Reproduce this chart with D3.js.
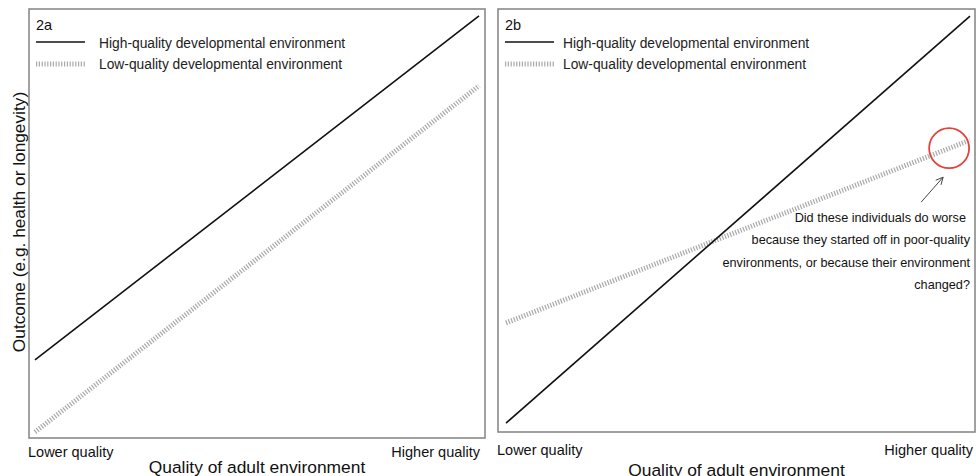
<!DOCTYPE html>
<html><head><meta charset="utf-8">
<script src="https://cdn.jsdelivr.net/npm/d3@7"></script>
<style>body{margin:0;background:#fff}svg{display:block;font-family:"Liberation Sans",Arial,sans-serif}</style>
</head><body>
<svg id="c" width="976" height="476"></svg>
<script>
// Data (x: quality of adult environment 0-100, y: outcome 0-100)
const xEnds = [0, 100];
const panelA_high = [18.2, 98.4];
const panelA_low = [1.4, 82.1];
const panelB_high = [2.1, 98.3];
const panelB_low = [25.8, 69.0];
const highlightPoint = [95.5, 67.1];
const panels = ["2a", "2b"];
const legendLabels = ["High-quality developmental environment", "Low-quality developmental environment"];
const xTickLabels = ["Lower quality", "Higher quality"];
const xTitle = "Quality of adult environment";
const yTitle = "Outcome (e.g. health or longevity)";
const annotation = ["Did these individuals do worse", "because they started off in poor-quality", "environments, or because their environment", "changed?"];

const svg = d3.select("#c");

const layouts = [
  {box:[29,9,485,438], xr:[35,479], high:panelA_high, low:panelA_low, name:panels[0],
   lx:36, tx:99, tickY:457, tickR:480, titleY:473},
  {box:[498,9,975,432], xr:[506,970], high:panelB_high, low:panelB_low, name:panels[1],
   lx:505, tx:563, tickY:455, tickR:973, titleY:476}
];

layouts.forEach((L, i) => {
  const [x0,y0,x1,y1] = L.box;
  const g = svg.append("g");
  const x = d3.scaleLinear().domain([0,100]).range(L.xr);
  const y = d3.scaleLinear().domain([0,100]).range([y1, y0]);
  g.append("rect").attr("x",x0).attr("y",y0).attr("width",x1-x0).attr("height",y1-y0)
    .attr("fill","#fff").attr("stroke","#8a8a8a").attr("stroke-width",1.6);
  const line = d3.line().x(d=>x(d[0])).y(d=>y(d[1]));
  g.append("path").datum(xEnds.map((v,k)=>[v,L.low[k]])).attr("d",line)
    .attr("fill","none").attr("stroke","#a8a8a8").attr("stroke-width",5).attr("stroke-dasharray","1.2,1.6");
  g.append("path").datum(xEnds.map((v,k)=>[v,L.high[k]])).attr("d",line)
    .attr("fill","none").attr("stroke","#111").attr("stroke-width",1.6);
  // panel label and legend
  const lx = L.lx;
  g.append("text").attr("x",lx).attr("y",30).attr("font-size",14.5).attr("fill","#111").text(L.name);
  g.append("line").attr("x1",lx).attr("x2",lx+49).attr("y1",42).attr("y2",42).attr("stroke","#111").attr("stroke-width",1.6);
  g.append("line").attr("x1",lx).attr("x2",lx+49).attr("y1",64).attr("y2",64).attr("stroke","#a8a8a8").attr("stroke-width",5).attr("stroke-dasharray","1.2,1.6");
  legendLabels.forEach((t,k)=>{
    g.append("text").attr("x",L.tx).attr("y",47.5+k*21).attr("font-size",13.8).attr("fill","#222").text(t);
  });
  // x axis labels
  g.append("text").attr("x",x0-1).attr("y",L.tickY).attr("font-size",14.5).attr("fill","#111").text(xTickLabels[0]);
  g.append("text").attr("x",L.tickR).attr("y",L.tickY).attr("text-anchor","end").attr("font-size",14.5).attr("fill","#111").text(xTickLabels[1]);
  g.append("text").attr("x",(x0+x1)/2).attr("y",L.titleY).attr("text-anchor","middle").attr("font-size",17.4).attr("fill","#111").text(xTitle);
  if (i===1) {
    const cx = x(highlightPoint[0]), cy = y(highlightPoint[1]);
    g.append("circle").attr("cx",cx).attr("cy",cy).attr("r",20).attr("fill","none").attr("stroke","#e0443a").attr("stroke-width",1.8);
    // arrow
    const ax0 = cx-28, ay0 = cy+54, ax1 = cx-6, ay1 = cy+29;
    g.append("line").attr("x1",ax0).attr("y1",ay0).attr("x2",ax1).attr("y2",ay1).attr("stroke","#444").attr("stroke-width",1);
    const ang = Math.atan2(ay1-ay0, ax1-ax0);
    const h = 8;
    g.append("path").attr("d",`M${ax1-h*Math.cos(ang-0.45)},${ay1-h*Math.sin(ang-0.45)}L${ax1},${ay1}L${ax1-h*Math.cos(ang+0.45)},${ay1-h*Math.sin(ang+0.45)}`)
      .attr("fill","none").attr("stroke","#444").attr("stroke-width",1);
    annotation.forEach((t,k)=>{
      g.append("text").attr("x",k===0?966:970).attr("y",222+k*22.3).attr("text-anchor","end").attr("font-size",12.7).attr("fill","#111").text(t);
    });
  }
});

svg.append("text").attr("transform","translate(25,222) rotate(-90)").attr("text-anchor","middle")
  .attr("font-size",17.3).attr("fill","#111").text(yTitle);
</script>
</body></html>
